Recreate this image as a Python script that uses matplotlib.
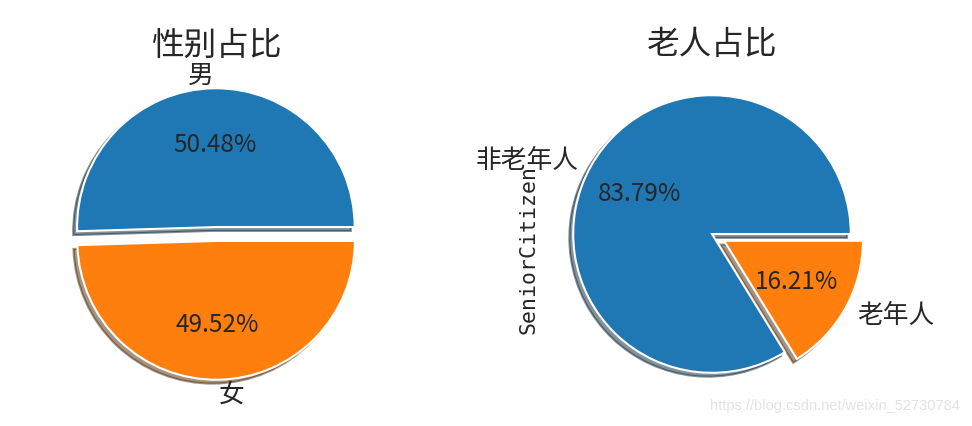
import matplotlib
matplotlib.use("Agg")
import matplotlib.pyplot as plt

plt.rcParams['font.family'] = ['Noto Sans CJK SC', 'DejaVu Sans']
plt.rcParams['text.color'] = '#262626'
plt.rcParams['axes.labelcolor'] = '#262626'
plt.rcParams['patch.edgecolor'] = 'white'
plt.rcParams['patch.force_edgecolor'] = True

gender_labels = ['男', '女']
gender_values = [50.48, 49.52]
gender_explode = [0.05, 0.05]

senior_labels = ['非老年人', '老年人']
senior_values = [83.79, 16.21]
senior_explode = [0, 0.1]

titles = ['性别占比', '老人占比']
senior_ylabel = 'SeniorCitizen'
watermark = 'https://blog.csdn.net/weixin_52730784'

W, H = 972, 427
fig = plt.figure(figsize=(W / 100, H / 100), dpi=100)

side = 347
def make_ax(cx, cy):
    return fig.add_axes([(cx - side / 2) / W, 1 - (cy + side / 2) / H, side / W, side / H])

ax1 = make_ax(216, 235)
ax2 = make_ax(712, 235)

def draw(ax, values, labels, explode, title):
    wedges, texts, autotexts = ax.pie(values, labels=labels, explode=explode, autopct='%.2f%%',
                                      shadow=True, wedgeprops=dict(linewidth=1.5, edgecolor='white'))
    for t in texts:
        t.set_fontsize(18.5)
    for t in autotexts:
        t.set_fontsize(17.5)
    ax.set_title(title, fontsize=23.5, pad=0, color='#262626')

draw(ax1, gender_values, gender_labels, gender_explode, titles[0])
draw(ax2, senior_values, senior_labels, senior_explode, titles[1])
ax2.set_ylabel(senior_ylabel, fontsize=15.5, family=['DejaVu Sans Mono'])
ax2.yaxis.set_label_coords(0.0, 0.457)

fig.text(0.988, 0.032, watermark, ha='right', va='bottom', fontsize=10.5,
         family=['Liberation Sans'], color='#e3e3e3')

fig.savefig('out.png', dpi=100)
